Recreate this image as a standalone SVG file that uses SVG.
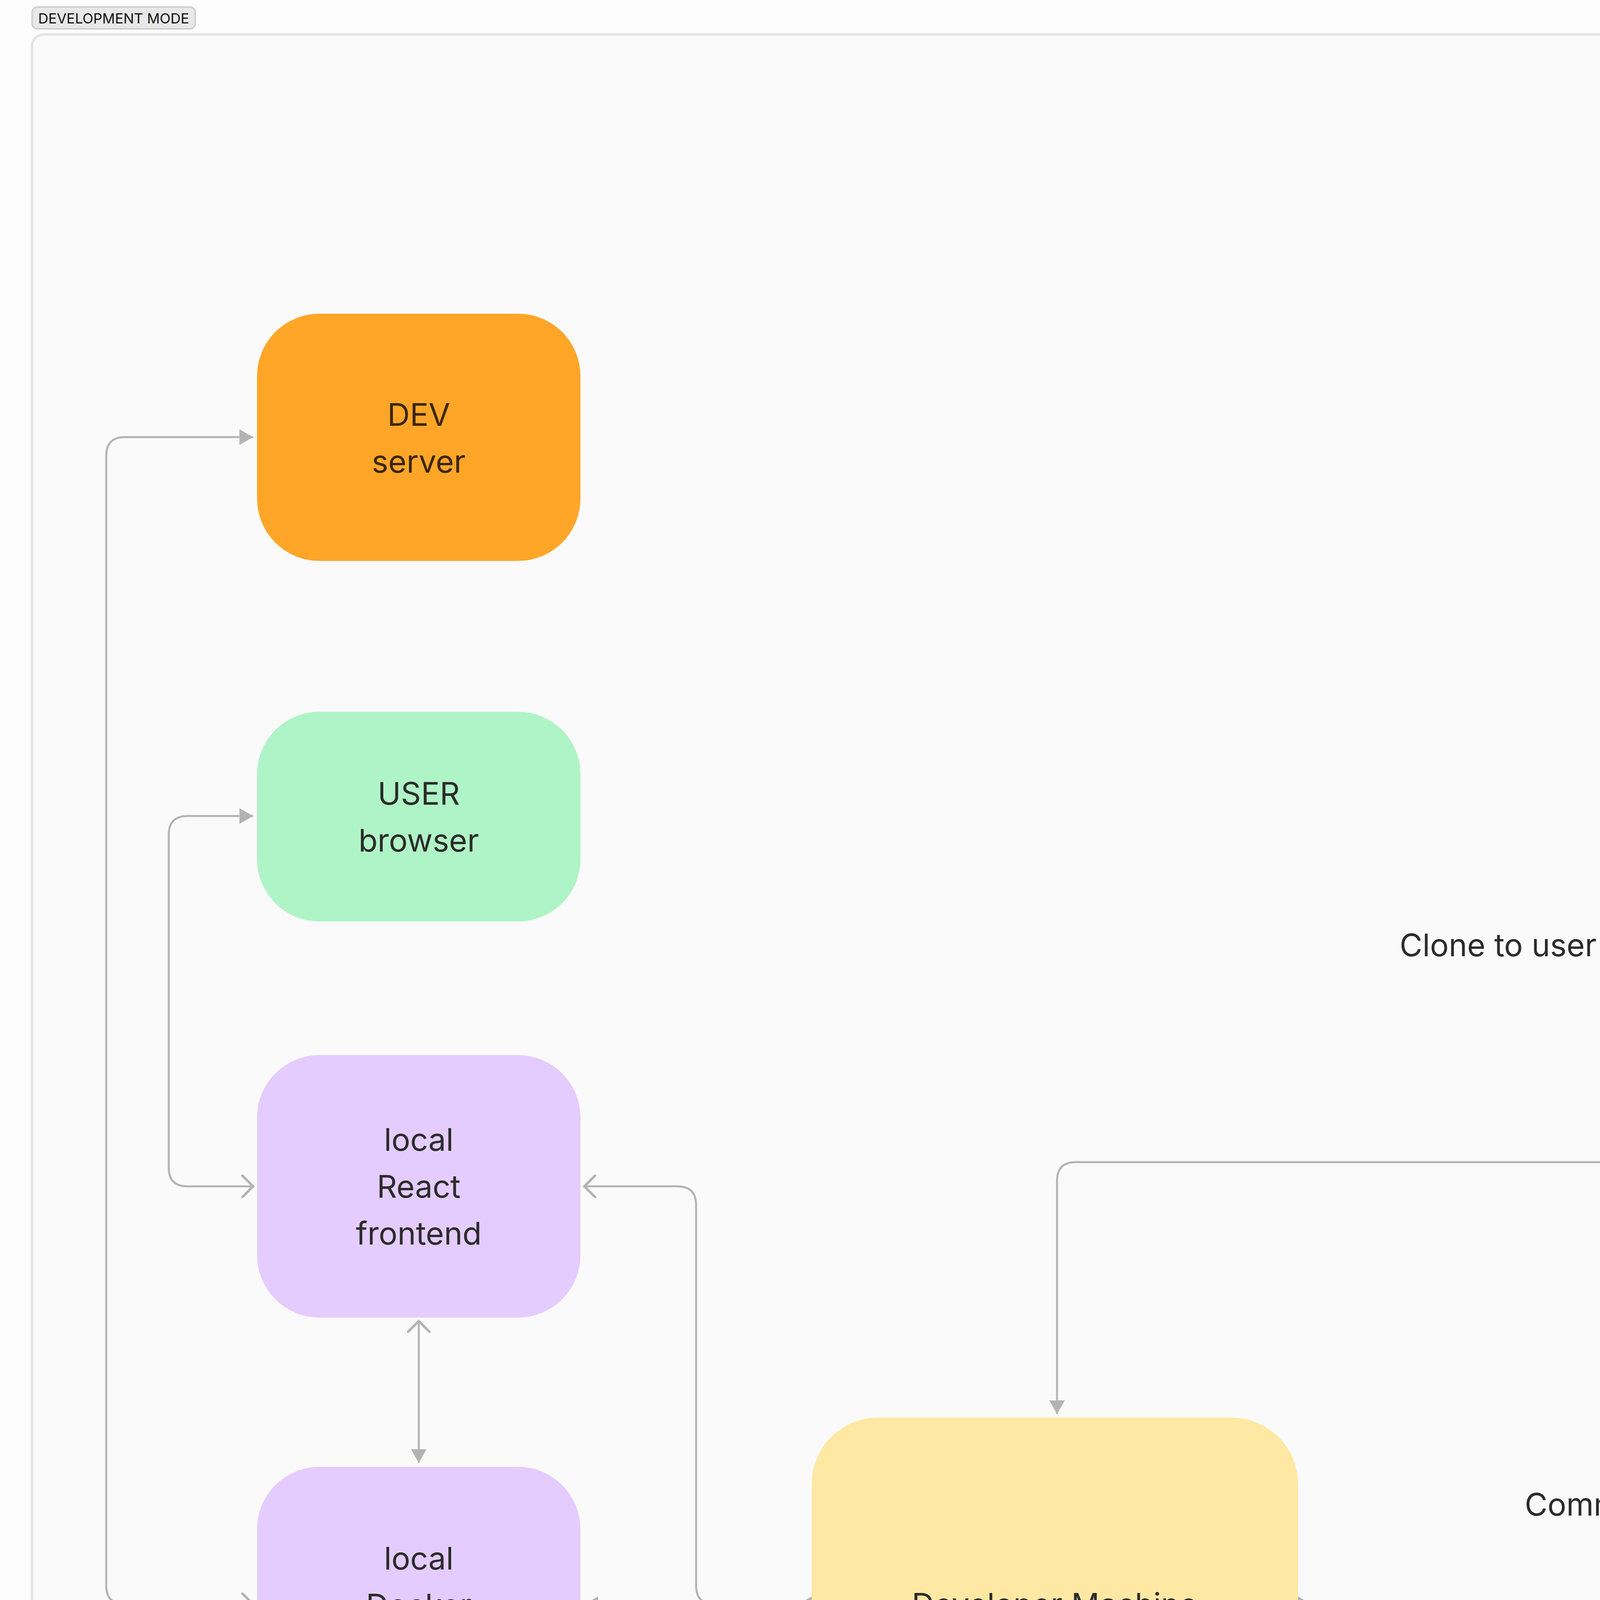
<svg xmlns="http://www.w3.org/2000/svg" width="7872" height="4896" viewBox="0 0 7872 4896">
<style>
.t{font-family:Inter,"Noto Sans",sans-serif;font-size:80px;fill:#2b2b2b;text-anchor:middle}
.c{fill:none;stroke:#b3b3b3;stroke-width:5}
</style>
<defs>
<marker id="f" markerUnits="userSpaceOnUse" markerWidth="40" markerHeight="40" refX="28" refY="16" orient="auto-start-reverse" viewBox="0 0 28 32"><path d="M0,0 L28,16 L0,32 z" fill="#b3b3b3"/></marker>
<marker id="o" markerUnits="userSpaceOnUse" markerWidth="50" markerHeight="60" refX="24" refY="24" orient="auto-start-reverse" viewBox="0 0 30 48"><path d="M2,2 L24,24 L2,46" fill="none" stroke="#b3b3b3" stroke-width="5" stroke-linecap="round"/></marker>
<marker id="tl" markerUnits="userSpaceOnUse" markerWidth="40" markerHeight="40" refX="0" refY="16" orient="auto" viewBox="0 0 28 32"><path d="M0,0 L28,16 L0,32 z" fill="#b3b3b3"/></marker>
</defs>
<rect width="7872" height="4896" fill="#fdfdfd"/>
<g id="frame">
<rect x="82" y="88" width="7708" height="4722" rx="30" fill="#fafafa" stroke="#e3e3e3" stroke-width="6"/>
<rect x="82" y="18" width="418" height="56" rx="14" fill="#e8e8e8" stroke="#c8c8c8" stroke-width="3"/>
<text x="291" y="60" style="font-family:Inter,sans-serif;font-size:36px;fill:#111" text-anchor="middle">DEVELOPMENT MODE</text>
</g>
<g id="connectors">
<path class="c" d="M648,4107 H320 Q272,4107 272,4059 V1167 Q272,1119 320,1119 H648" marker-start="url(#o)" marker-end="url(#f)"/>
<path class="c" d="M648,3037 H480 Q432,3037 432,2989 V2137 Q432,2089 480,2089 H648" marker-start="url(#o)" marker-end="url(#f)"/>
<path class="c" d="M1072,3382 V3745" marker-start="url(#o)" marker-end="url(#f)"/>
<path class="c" d="M2078,4107 H1830 Q1782,4107 1782,4059 V3085 Q1782,3037 1734,3037 H1496" marker-end="url(#o)"/>
<path class="c" d="M2078,4107 H1496" marker-start="url(#tl)" marker-end="url(#f)"/>
<path class="c" d="M4659,2975 H2754 Q2706,2975 2706,3023 V3620" marker-start="url(#tl)" marker-end="url(#f)"/>
<path class="c" d="M3323,4107 H5134 Q5182,4107 5182,4059 V3383" marker-start="url(#tl)" marker-end="url(#o)"/>
<path class="c" d="M5182,1099 V2565" marker-start="url(#tl)" marker-end="url(#f)"/>
<path class="c" d="M5708,2975 H6142 Q6190,2975 6190,2927 V737 Q6190,689 6142,689 H5718" marker-start="url(#tl)" marker-end="url(#f)"/>
<text class="t" x="4548" y="1358">Fork to USER Repo</text>
<text class="t" x="6946" y="1575">Pull Request to Starter-dev Repo</text>
<text class="t" x="4007" y="2448">Clone to user machine</text>
<text class="t" x="4322" y="3880">Commit to USER Repo</text>
</g>
<g id="dev-server"><rect x="658" y="803" width="828" height="633" rx="160" fill="#ffa629"/>
<text class="t" style="fill:#3b2608" x="1072" y="1090">DEV</text><text class="t" style="fill:#3b2608" x="1072" y="1210">server</text></g>
<g id="user-browser"><rect x="658" y="1822" width="828" height="537" rx="160" fill="#aff4c6"/>
<text class="t" x="1072" y="2060">USER</text><text class="t" x="1072" y="2180">browser</text></g>
<g id="react"><rect x="658" y="2701" width="828" height="672" rx="160" fill="#e4ccff"/>
<text class="t" x="1072" y="2946">local</text><text class="t" x="1072" y="3066">React</text><text class="t" x="1072" y="3186">frontend</text></g>
<g id="docker"><rect x="658" y="3755" width="828" height="703" rx="160" fill="#e4ccff"/>
<text class="t" x="1072" y="4018">local</text><text class="t" x="1072" y="4138">Docker</text><text class="t" x="1072" y="4258">backend</text></g>
<g id="dev-machine"><rect x="2078" y="3629" width="1245" height="954" rx="170" fill="#ffe8a3"/>
<text class="t" x="2700" y="4136">Developer Machine</text></g>
<g id="starter-repo"><rect x="4659" y="271" width="1049" height="828" rx="170" fill="#bde3ff"/>
<text class="t" x="5183" y="598">GitHub</text><text class="t" x="5183" y="718">Starter-dev</text><text class="t" x="5183" y="838">Repo</text></g>
<g id="user-repo"><rect x="4659" y="2575" width="1049" height="798" rx="170" fill="#bde3ff"/>
<text class="t" x="5183" y="2886">Github</text><text class="t" x="5183" y="3006">USER</text><text class="t" x="5183" y="3126">repo</text></g>
</svg>
